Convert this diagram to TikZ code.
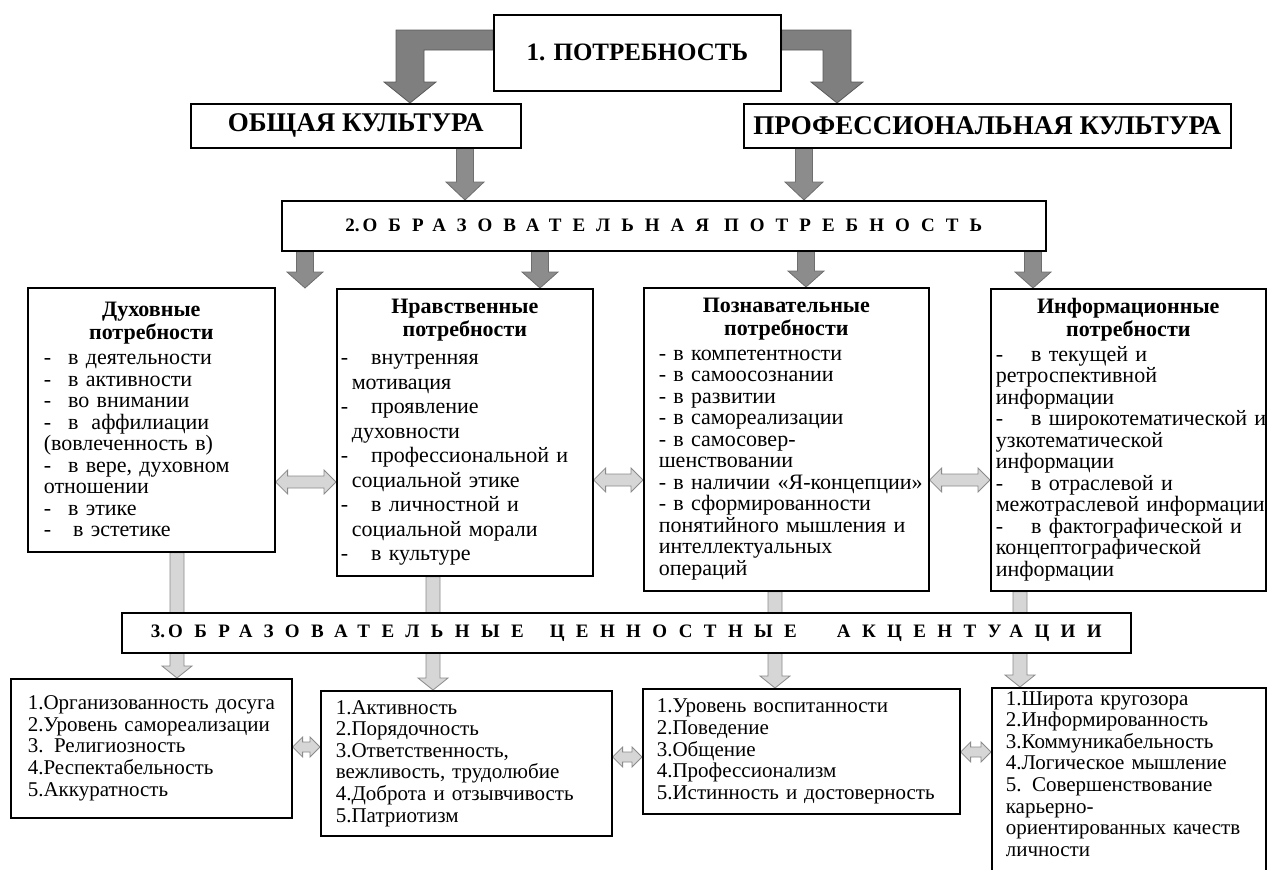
\documentclass[tikz,border=0pt]{standalone}
\usepackage{fontspec}
\setmainfont{Liberation Serif}
\newfontfamily\spacedfont[LetterSpace=50]{Liberation Serif}
\usetikzlibrary{calc}
\pgfdeclarelayer{bg}
\pgfsetlayers{bg,main}
\setlength{\parindent}{0pt}
\hfuzz=80pt \hbadness=10000 \vbadness=10000
\definecolor{arrD}{HTML}{7F7F7F}
\definecolor{arrDo}{HTML}{5A5A5A}
\definecolor{arrM}{HTML}{8C8C8C}
\definecolor{arrMo}{HTML}{6E6E6E}
\definecolor{arrL}{HTML}{D6D6D6}
\definecolor{arrLo}{HTML}{8A8A8A}
\newcommand\vblk[6]{%
 \filldraw[#1] let \p1=(#2), \p2=(#3) in
 (\x1-#4,\y1) -- (\x1+#4,\y1) -- (\x1+#4,\y2+#6) -- (\x1+#5,\y2+#6) -- (\x1,\y2) --
 (\x1-#5,\y2+#6) -- (\x1-#4,\y2+#6) -- cycle;}
\newcommand\hdbl[6]{%
 \filldraw[#1] let \p1=(#2), \p2=(#3) in
 (\x1,\y1) -- (\x1+#6,\y1+#5) -- (\x1+#6,\y1+#4) -- (\x2-#6,\y1+#4) -- (\x2-#6,\y1+#5) --
 (\x2,\y1) -- (\x2-#6,\y1-#5) -- (\x2-#6,\y1-#4) -- (\x1+#6,\y1-#4) -- (\x1+#6,\y1-#5) -- cycle;}
\newcommand\itm[1]{-\hspace{#1}}
\newcommand\lnx[1]{\mbox{#1}\\}
\newcommand\lnlast[1]{\mbox{#1}\par}
\begin{document}
\begin{tikzpicture}[x=1pt,y=-1pt,
  box/.style={draw=black,line width=1.6pt,fill=white,inner sep=0pt,anchor=north west},
  spc/.style={font=\spacedfont\bfseries\fontsize{19}{22}\selectfont},
  txt/.style={font=\fontsize{22}{21.5}\selectfont},
  btxt/.style={font=\fontsize{21}{21.6}\selectfont},
  dark/.style={fill=arrD,draw=arrDo,line width=0.8pt},
  mid/.style={fill=arrM,draw=arrMo,line width=0.8pt},
  light/.style={fill=arrL,draw=arrLo,line width=0.8pt}]
\useasboundingbox (0,0) rectangle (1269,870);
\clip (0,0) rectangle (1269,870);

% top level
\node[box,font=\bfseries\fontsize{25}{28}\selectfont,minimum width=287,minimum height=76] (p1) at (493,14) {1. ПОТРЕБНОСТЬ};
\node[box,font=\bfseries\fontsize{27}{30}\selectfont,minimum width=330,minimum height=44] (oc) at (190,103) {ОБЩАЯ КУЛЬТУРА};
\node[box,font=\bfseries\fontsize{27}{30}\selectfont,minimum width=487,minimum height=44] (pc) at (743,103) {ПРОФЕССИОНАЛЬНАЯ КУЛЬТУРА};
\node[box,spc,minimum width=764,minimum height=50] (op) at (281,200) {\addfontfeature{LetterSpace=0}2.\addfontfeature{LetterSpace=58}\hspace{3pt}ОБРАЗОВАТЕЛЬНАЯ\hspace{15pt}ПОТРЕБНОСТЬ};

% row 2
\node[box,txt,minimum height=264,inner xsep=16pt,text width=215pt] (d) at (27,287) {%
{\centering\bfseries\fontsize{22}{23}\selectfont Духовные\\потребности\par}\vspace{3.5pt}
\raggedright
\lnx{\itm{17pt}в деятельности}
\lnx{\itm{17pt}в активности}
\lnx{\itm{17pt}во внимании}
\lnx{\itm{17pt}в\hspace{13pt}аффилиации}
\lnx{(вовлеченность в)}
\lnx{\itm{17pt}в вере, духовном}
\lnx{отношении}
\lnx{\itm{17pt}в этике}
\lnlast{\itm{22pt}в эстетике}};

\node[box,minimum height=287,inner xsep=4pt,text width=248pt,font=\fontsize{22}{24.5}\selectfont] (n) at (336,288) {%
{\centering\bfseries\fontsize{22}{23}\selectfont Нравственные\\потребности\par}\vspace{3.5pt}
\raggedright
\lnx{\itm{23pt}внутренняя}
\lnx{\hspace{11pt}мотивация}
\lnx{\itm{23pt}проявление}
\lnx{\hspace{11pt}духовности}
\lnx{\itm{23pt}профессиональной и}
\lnx{\hspace{11pt}социальной этике}
\lnx{\itm{23pt}в личностной и}
\lnx{\hspace{11pt}социальной морали}
\lnlast{\itm{23pt}в культуре}};

\node[box,txt,minimum height=303,inner xsep=15pt,text width=255pt] (pz) at (643,287) {%
{\centering\bfseries\fontsize{22}{23}\selectfont Познавательные\\потребности\par}\vspace{3pt}
\raggedright
\lnx{- в компетентности}
\lnx{- в самоосознании}
\lnx{- в развитии}
\lnx{- в самореализации}
\lnx{- в самосовер-}
\lnx{шенствовании}
\lnx{- в наличии «Я-концепции»}
\lnx{- в сформированности}
\lnx{понятийного мышления и}
\lnx{интеллектуальных}
\lnlast{операций}};

\node[box,txt,minimum height=302,inner xsep=5pt,text width=265pt] (inf) at (990,288) {%
{\centering\bfseries\fontsize{22}{23}\selectfont Информационные\\потребности\par}\vspace{3pt}
\raggedright
\lnx{\itm{28pt}в текущей и}
\lnx{ретроспективной}
\lnx{информации}
\lnx{\itm{28pt}в широкотематической и}
\lnx{узкотематической}
\lnx{информации}
\lnx{\itm{28pt}в отраслевой и}
\lnx{межотраслевой информации}
\lnx{\itm{28pt}в фактографической и}
\lnx{концептографической}
\lnlast{информации}};

% level 3
\node[box,spc,minimum width=1009,minimum height=40] (oc3) at (121,612) {\addfontfeature{LetterSpace=0}3.\addfontfeature{LetterSpace=60}\hspace{3pt}ОБРАЗОВАТЕЛЬНЫЕ\hspace{26pt}ЦЕННОСТНЫЕ\hspace{40pt}АКЦЕНТУАЦИИ};

% bottom row
\node[box,btxt,minimum height=139,inner xsep=17pt,text width=247pt] (b1) at (10,678) {%
\raggedright
\lnx{1.Организованность досуга}
\lnx{2.Уровень самореализации}
\lnx{3. Религиозность}
\lnx{4.Респектабельность}
\lnlast{5.Аккуратность}};

\node[box,btxt,minimum height=145,inner xsep=15pt,text width=261pt] (b2) at (320,690) {%
\raggedright
\lnx{1.Активность}
\lnx{2.Порядочность}
\lnx{3.Ответственность,}
\lnx{вежливость, трудолюбие}
\lnx{4.Доброта и отзывчивость}
\lnlast{5.Патриотизм}};

\node[box,btxt,minimum height=125,inner xsep=14pt,text width=289pt] (b3) at (642,688) {%
\raggedright
\lnx{1.Уровень воспитанности}
\lnx{2.Поведение}
\lnx{3.Общение}
\lnx{4.Профессионализм}
\lnlast{5.Истинность и достоверность}};

\node[box,btxt,inner ysep=3.5pt,inner xsep=14pt,text width=246pt] (b4) at (991,687) {%
\raggedright
\lnx{1.Широта кругозора}
\lnx{2.Информированность}
\lnx{3.Коммуникабельность}
\lnx{4.Логическое мышление}
\lnx{5. Совершенствование}
\lnx{карьерно-}
\lnx{ориентированных качеств}
\lnlast{личности\rule[-40pt]{0pt}{1pt}}};

\begin{pgfonlayer}{bg}
% bent arrows from 1
\filldraw[dark] (p1.west |- 0,30) -- (396,30) -- (396,82) -- (384,82) -- (410,0 |- oc.north)
  -- (436,82) -- (424,82) -- (424,50) -- (p1.west |- 0,50) -- cycle;
\filldraw[dark] (p1.east |- 0,30) -- (851,30) -- (851,82) -- (863,82) -- (837,0 |- pc.north)
  -- (811,82) -- (823,82) -- (823,50) -- (p1.east |- 0,50) -- cycle;
% to level 2
\vblk{mid}{465,0 |- oc.south}{465,0 |- op.north}{8.5pt}{19pt}{18pt}
\vblk{mid}{804,0 |- pc.south}{804,0 |- op.north}{8.5pt}{19pt}{18pt}
% from level 2
\vblk{mid}{305,0 |- op.south}{305,0 |- n.north}{8.5pt}{18pt}{16pt}
\vblk{mid}{540,0 |- op.south}{540,0 |- n.north}{8.5pt}{18pt}{16pt}
\vblk{mid}{806,0 |- op.south}{806,0 |- pz.north}{8.5pt}{18pt}{16pt}
\vblk{mid}{1033,0 |- op.south}{1033,0 |- inf.north}{8.5pt}{18pt}{16pt}
% through level 3
\vblk{light}{177,0 |- d.south}{177,0 |- b1.north}{7pt}{15pt}{12pt}
\vblk{light}{433,0 |- n.south}{433,0 |- b2.north}{7pt}{15pt}{12pt}
\vblk{light}{775,0 |- pz.south}{775,0 |- b3.north}{7pt}{15pt}{12pt}
\vblk{light}{1020,0 |- inf.south}{1020,0 |- b4.north}{7pt}{15pt}{12pt}
% double arrows row 2
\hdbl{light}{d.east |- 0,482}{n.west |- 0,482}{6pt}{12pt}{12pt}
\hdbl{light}{n.east |- 0,480}{pz.west |- 0,480}{6pt}{12pt}{12pt}
\hdbl{light}{pz.east |- 0,480}{inf.west |- 0,480}{6pt}{12pt}{12pt}
% double arrows bottom row
\hdbl{light}{b1.east |- 0,747}{b2.west |- 0,747}{5pt}{10pt}{10pt}
\hdbl{light}{b2.east |- 0,757}{b3.west |- 0,757}{5pt}{10pt}{10pt}
\hdbl{light}{b3.east |- 0,752}{b4.west |- 0,752}{5pt}{10pt}{10pt}
\end{pgfonlayer}
\end{tikzpicture}
\end{document}
